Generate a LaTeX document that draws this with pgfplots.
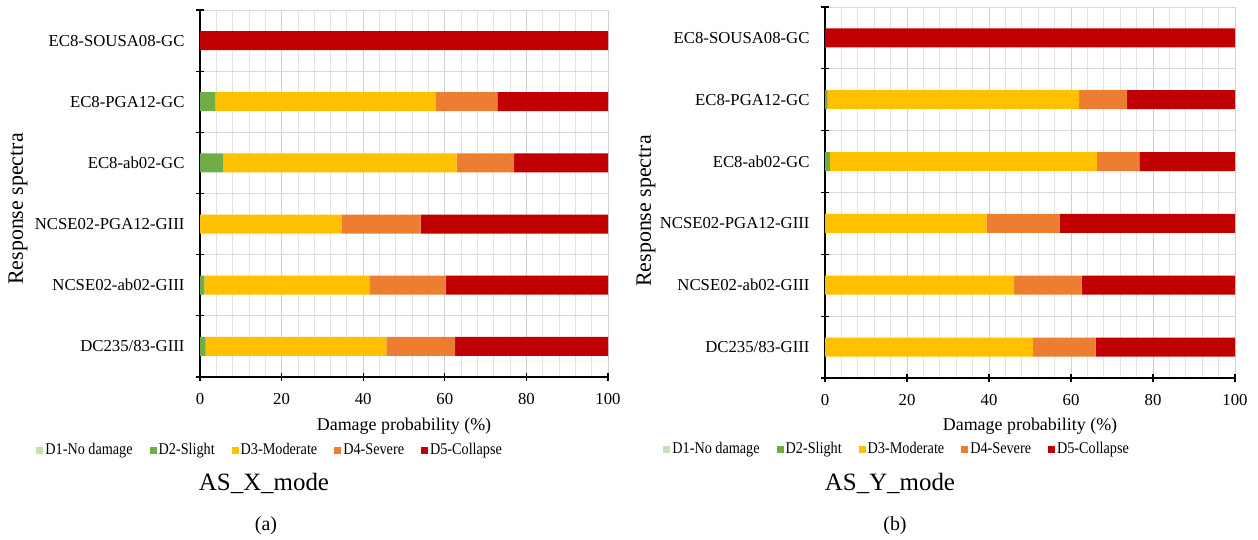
\documentclass[border=0pt]{standalone}
\usepackage{graphicx}
\usepackage{pgfplots}
\pgfplotsset{compat=1.18}
\usepackage{fontspec}
\setmainfont{Liberation Serif}
\definecolor{dA}{HTML}{C5E0B4}
\definecolor{dB}{HTML}{70AD47}
\definecolor{dC}{HTML}{FFC000}
\definecolor{dD}{HTML}{ED7D31}
\definecolor{dE}{HTML}{C00000}
\newcommand{\legtxt}[1]{\scalebox{0.87}[1]{#1}}
\pgfplotsset{
  dmg/.style={
    scale only axis,
    xbar stacked,
    bar width=19bp,
    xmin=0, xmax=100,
    ymin=-0.5, ymax=5.5,
    xtick={0,20,...,100},
    minor x tick num=4,
    ytick={0,...,5},
    yticklabels={DC235/83-GIII, NCSE02-ab02-GIII, NCSE02-PGA12-GIII, EC8-ab02-GC, EC8-PGA12-GC, EC8-SOUSA08-GC},
    minor ytick={-0.5,0.5,...,5.5},
    axis x line*=bottom, axis y line*=left,
    axis line style={black, line width=1.2bp, -},
    tick align=center,
    major tick length=8bp, minor tick length=8bp,
    major x tick style={black, line width=1.2bp},
    minor x tick style={draw=none},
    major y tick style={draw=none},
    minor y tick style={black, line width=1.2bp},
    xmajorgrids, xminorgrids, yminorgrids, ymajorgrids=false,
    major x grid style={color=black!18, line width=0.8bp},
    minor x grid style={color=black!11, line width=0.8bp},
    minor y grid style={color=black!15, line width=0.8bp},
    tick label style={font=\fontsize{16.8}{18}\selectfont},
    yticklabel style={xshift=-8bp},
    xticklabel style={yshift=-9bp},
    /pgf/number format/assume math mode=true,
    legend columns=5,
    legend style={draw=none, fill=none, font=\fontsize{16.4}{18}\selectfont, anchor=center,
      nodes={text height=11bp, text depth=3bp, inner xsep=2bp},
      /tikz/every even column/.append style={column sep=15bp}},
    legend image code/.code={\fill[##1] (0bp,-3.5bp) rectangle (7bp,3.5bp);},
  }
}
\begin{document}
\begin{tikzpicture}[x=1bp,y=1bp]
\useasboundingbox (0,0) rectangle (1258,540);
% Panel (a)
\begin{axis}[dmg, at={(200bp,163bp)}, anchor=south west, width=408bp, height=367bp,
  legend style={at={(axis description cs:0.172,-0.199)}}]
\addplot[fill=dA, draw=none] coordinates {(0,0) (0,1) (0,2) (0,3) (0,4) (0,5)};
\addplot[fill=dB, draw=none] coordinates {(1.4,0) (1.1,1) (0,2) (5.6,3) (3.7,4) (0,5)};
\addplot[fill=dC, draw=none] coordinates {(44.3,0) (40.4,1) (34.8,2) (57.3,3) (54.1,4) (0,5)};
\addplot[fill=dD, draw=none] coordinates {(16.8,0) (18.7,1) (19.3,2) (14.1,3) (15.1,4) (0,5)};
\addplot[fill=dE, draw=none] coordinates {(37.5,0) (39.8,1) (45.9,2) (23.0,3) (27.1,4) (100,5)};
\legend{\legtxt{D1-No damage}, \legtxt{D2-Slight}, \legtxt{D3-Moderate}, \legtxt{D4-Severe}, \legtxt{D5-Collapse}}
\end{axis}
% Panel (b)
\begin{axis}[dmg, at={(825bp,162bp)}, anchor=south west, width=410bp, height=371bp,
  legend style={at={(axis description cs:0.176,-0.194)}}]
\addplot[fill=dA, draw=none] coordinates {(0,0) (0,1) (0,2) (0,3) (0,4) (0,5)};
\addplot[fill=dB, draw=none] coordinates {(0,0) (0,1) (0,2) (1.2,3) (0.65,4) (0,5)};
\addplot[fill=dC, draw=none] coordinates {(50.7,0) (46.1,1) (39.4,2) (65.1,3) (61.35,4) (0,5)};
\addplot[fill=dD, draw=none] coordinates {(15.3,0) (16.5,1) (17.9,2) (10.4,3) (11.7,4) (0,5)};
\addplot[fill=dE, draw=none] coordinates {(34.0,0) (37.4,1) (42.7,2) (23.3,3) (26.3,4) (100,5)};
\legend{\legtxt{D1-No damage}, \legtxt{D2-Slight}, \legtxt{D3-Moderate}, \legtxt{D4-Severe}, \legtxt{D5-Collapse}}
\end{axis}
% Texts
\node[rotate=90, font=\fontsize{22}{24}\selectfont] at (18,331) {Response spectra};
\node[rotate=90, font=\fontsize{22}{24}\selectfont] at (646,329) {Response spectra};
\node[font=\fontsize{18}{20}\selectfont] at (404,114) {Damage probability (\%)};
\node[font=\fontsize{18}{20}\selectfont] at (1030,114) {Damage probability (\%)};
\node[font=\fontsize{25}{27}\selectfont] at (264,57) {AS\_X\_mode};
\node[font=\fontsize{25}{27}\selectfont] at (890,57) {AS\_Y\_mode};
\node[font=\fontsize{20}{22}\selectfont] at (266,14) {(a)};
\node[font=\fontsize{20}{22}\selectfont] at (895,14) {(b)};
\end{tikzpicture}
\end{document}
